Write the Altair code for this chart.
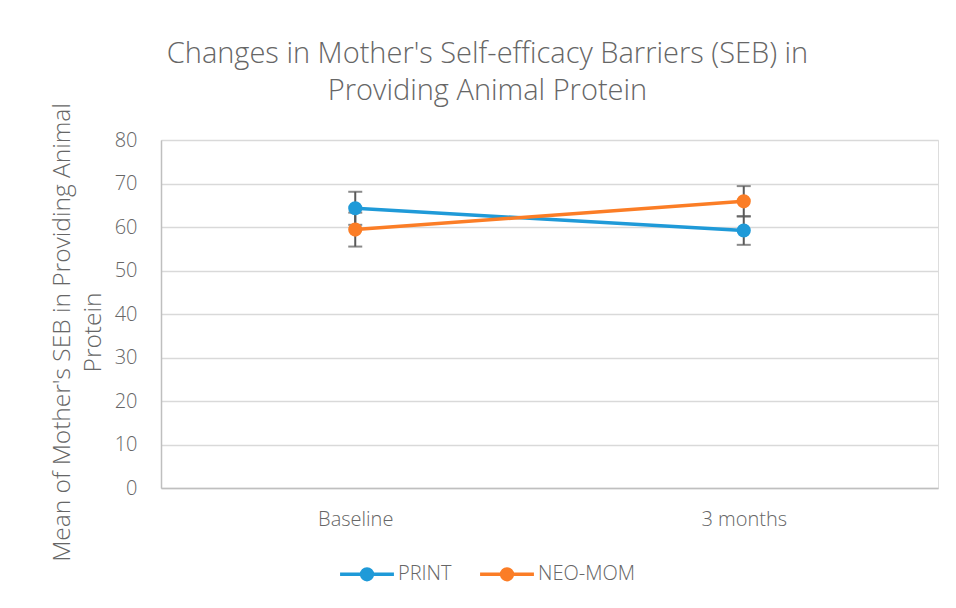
import altair as alt
import pandas as pd

times = ["Baseline", "3 months"]
groups = ["PRINT", "NEO-MOM"]
print_mean = [64.3, 59.2]
print_err = [3.8, 3.3]
neo_mean = [59.4, 65.9]
neo_err = [3.9, 3.5]

rows = []
for i, t in enumerate(times):
    rows.append({"time": t, "group": "PRINT", "mean": print_mean[i],
                 "lo": print_mean[i] - print_err[i], "hi": print_mean[i] + print_err[i]})
    rows.append({"time": t, "group": "NEO-MOM", "mean": neo_mean[i],
                 "lo": neo_mean[i] - neo_err[i], "hi": neo_mean[i] + neo_err[i]})
df = pd.DataFrame(rows)

FONT = "Open Sans"
GRAY = "#666666"

xenc = alt.X("time:N", sort=times, scale=alt.Scale(type="point", padding=0.5),
             axis=alt.Axis(title=None, labelFontSize=20, labelColor=GRAY, labelFont=FONT,
                           labelFontWeight=300, labelAlign="center",
                           ticks=False, labelPadding=31, domainColor="#bfbfbf",
                           domainWidth=1.5, labelAngle=0, grid=False))
yscale = alt.Scale(domain=[0, 80], nice=False)
color = alt.Color("group:N", sort=groups,
                  scale=alt.Scale(domain=groups, range=["#1f9ad8", "#fb7d26"]),
                  legend=alt.Legend(title=None, orient="none", direction="horizontal",
                                    legendX=177, legendY=405,
                                    labelFontSize=20, labelColor=GRAY, labelFont=FONT,
                                    labelFontWeight=300,
                                    symbolType="M-1,0H1M-0.2,0A0.2,0.2 0 1,0 0.2,0A0.2,0.2 0 1,0 -0.2,0Z",
                                    symbolSize=2900, symbolStrokeWidth=3.5,
                                    symbolFillColor=None, columnPadding=21,
                                    labelOffset=2))

base = alt.Chart(df)

lines = base.mark_line(strokeWidth=3.5).encode(
    x=xenc,
    y=alt.Y("mean:Q", scale=yscale,
            axis=alt.Axis(title=["Mean of Mother's SEB in Providing Animal", "Protein"],
                          titleFontSize=24.5, titleFontWeight=300, titleColor=GRAY,
                          titleFont=FONT, titlePadding=9, titleLineHeight=31,
                          titleY=192,
                          labelFontSize=20, labelColor=GRAY, labelFont=FONT,
                          labelFontWeight=300,
                          values=list(range(0, 81, 10)), ticks=False, labelPadding=24,
                          domain=True, domainColor="#bfbfbf", domainWidth=1.5,
                          gridColor="#d9d9d9", gridWidth=1.5)),
    color=color,
)

rules = base.mark_rule(color="#595959", strokeWidth=2).encode(
    x=alt.X("time:N", sort=times), y="lo:Q", y2="hi:Q")
caps_lo = base.mark_tick(color="#595959", orient="horizontal", size=14, thickness=2).encode(
    x=alt.X("time:N", sort=times), y="lo:Q")
caps_hi = base.mark_tick(color="#595959", orient="horizontal", size=14, thickness=2).encode(
    x=alt.X("time:N", sort=times), y="hi:Q")

points = base.mark_circle(size=200, opacity=1).encode(
    x=alt.X("time:N", sort=times), y="mean:Q", color=color)

chart = alt.layer(rules, caps_lo, caps_hi, lines, points).properties(
    width=777, height=348,
    title=alt.TitleParams(["Changes in Mother's Self-efficacy Barriers (SEB) in",
                           "Providing Animal Protein"],
                          fontSize=29, font=FONT, color=GRAY, fontWeight=300,
                          anchor="middle", lineHeight=37, offset=-3, dx=-62),
    autosize=alt.AutoSizeParams(type="none"),
    padding={"left": 153, "top": 132, "right": 10, "bottom": 108},
).configure_view(stroke="transparent", strokeWidth=0).configure(background="white")

chart.save("out.html", embed_options={"renderer": "svg", "actions": False})
